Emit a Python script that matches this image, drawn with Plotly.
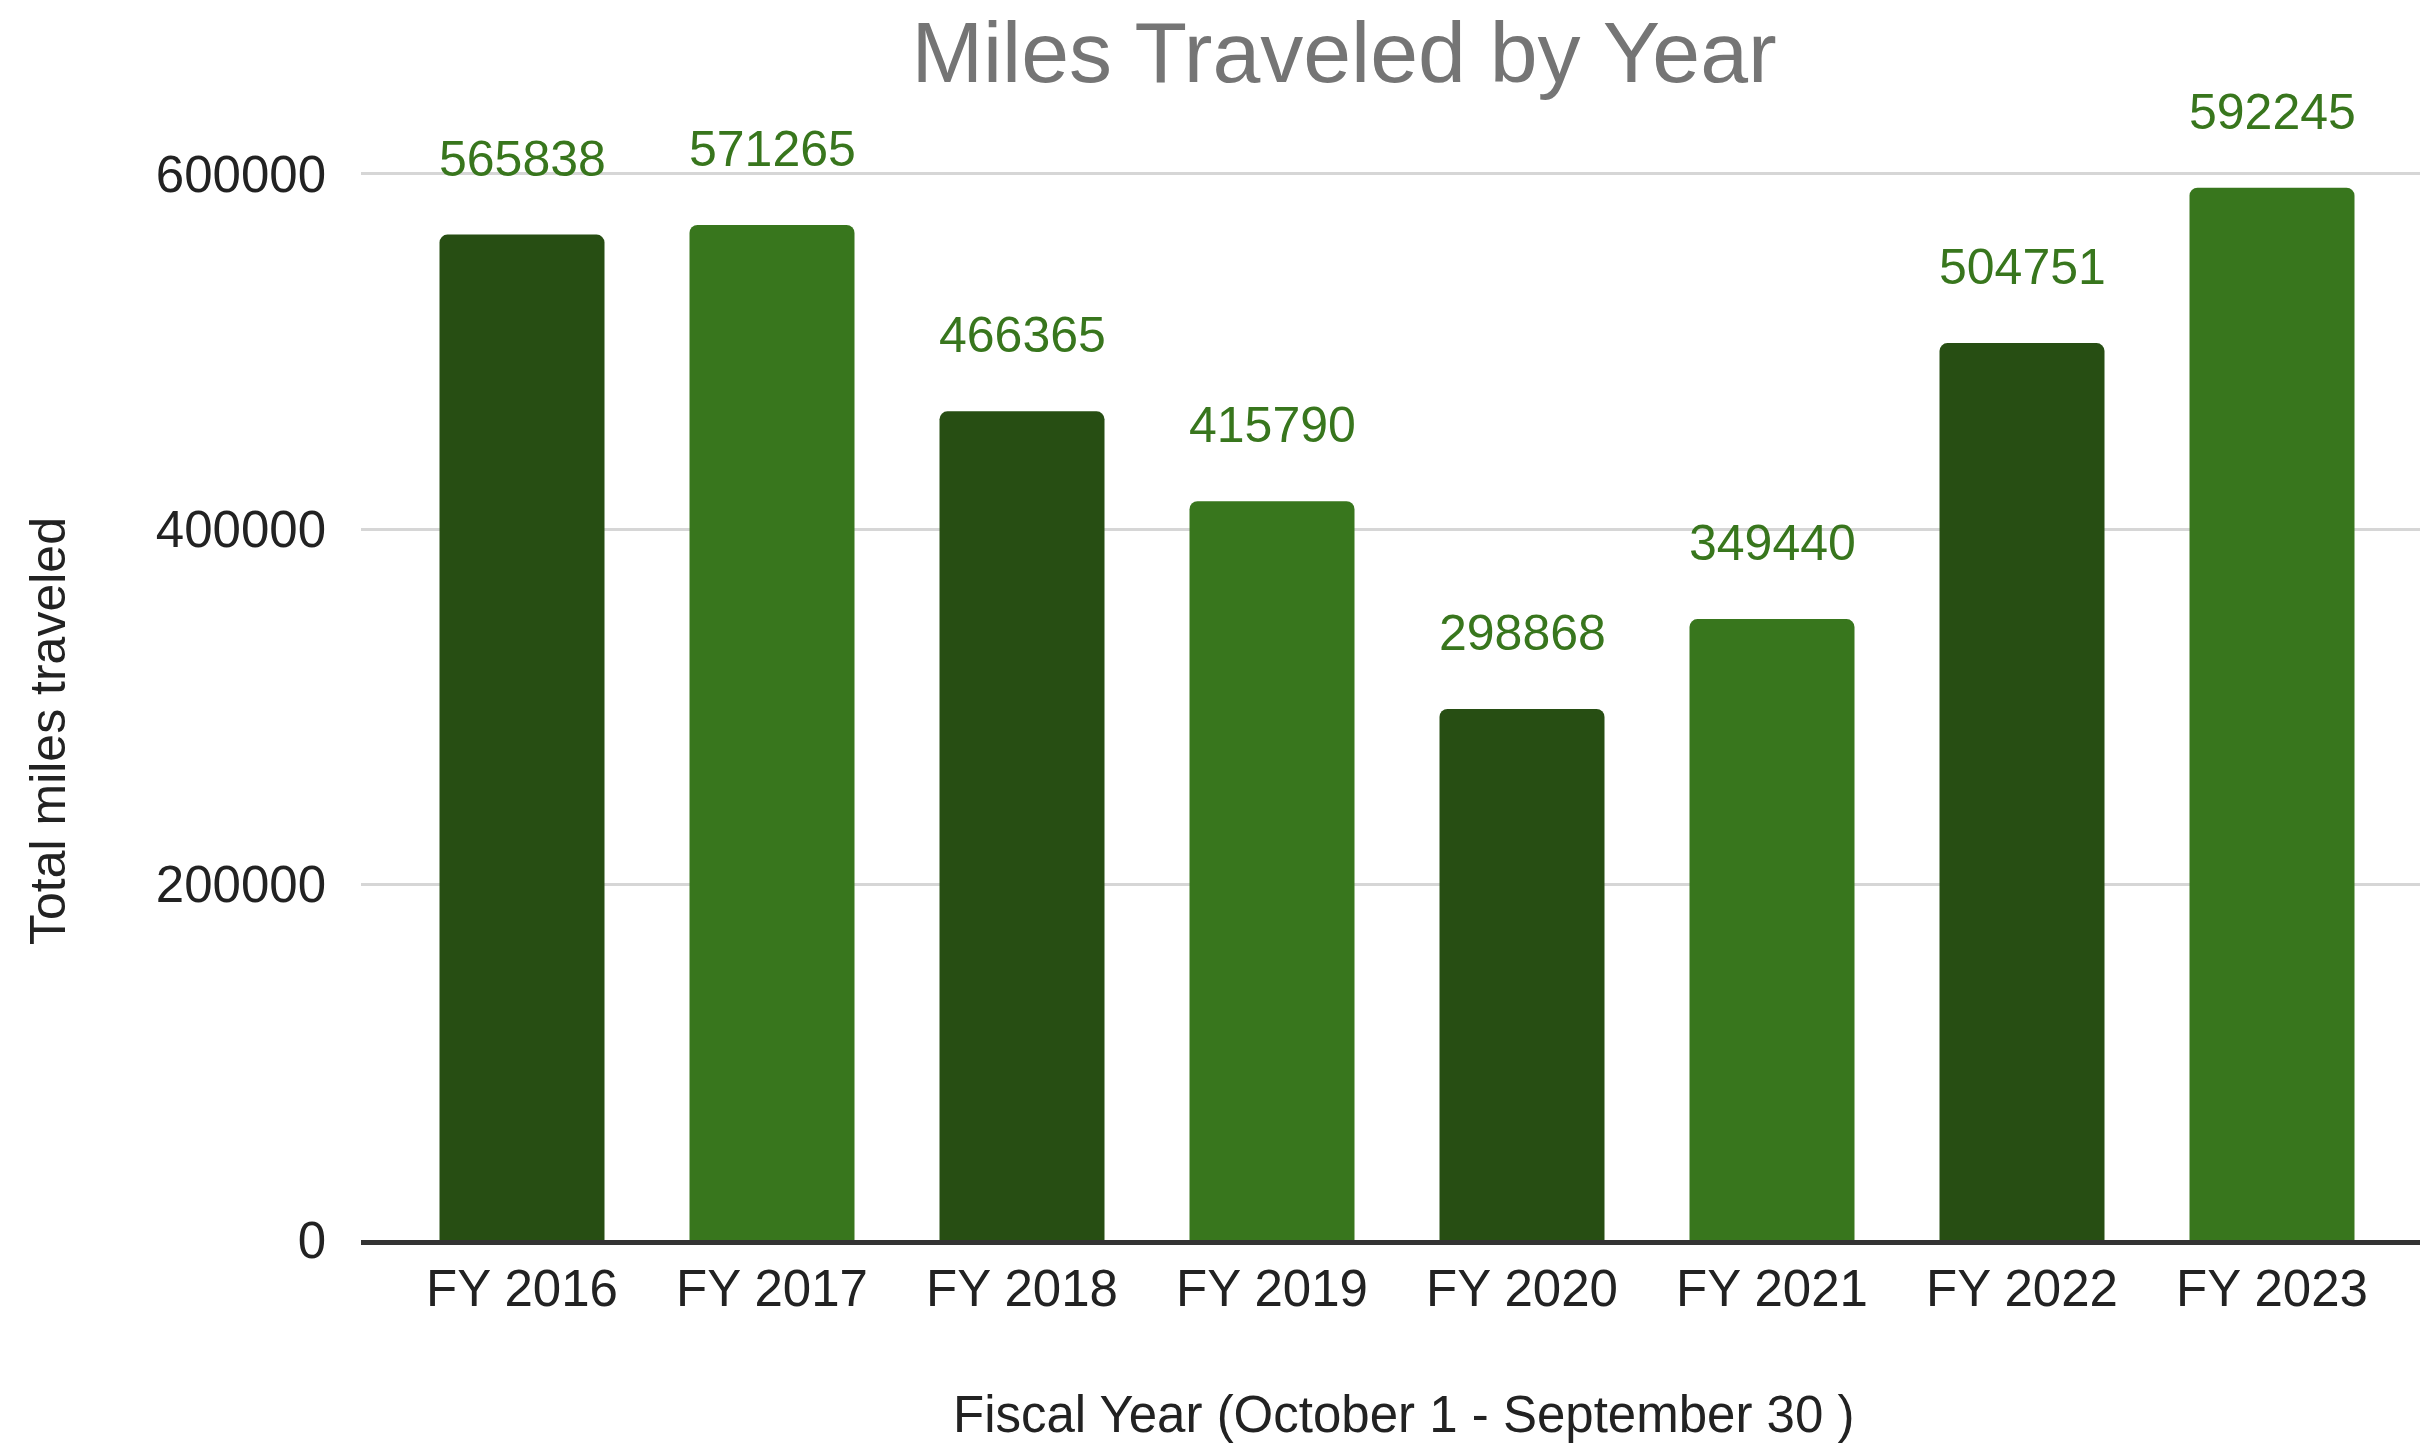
import plotly.graph_objects as go

categories = ["FY 2016", "FY 2017", "FY 2018", "FY 2019", "FY 2020", "FY 2021", "FY 2022", "FY 2023"]
miles = [565838, 571265, 466365, 415790, 298868, 349440, 504751, 592245]
bar_colors = ["#274e13", "#38761d", "#274e13", "#38761d", "#274e13", "#38761d", "#274e13", "#38761d"]
y_ticks = [0, 200000, 400000, 600000]

W, H = 2428, 1446
FONT = "Liberation Sans, Arial, sans-serif"
PLOT_H = 1155

fig = go.Figure()
fig.add_trace(go.Bar(
    x=categories, y=miles,
    marker=dict(color=bar_colors, line=dict(width=0)),
    width=0.66,
    hoverinfo="x+y",
))

annotations = []
for c, v in zip(categories, miles):
    annotations.append(dict(
        x=c, y=v, xref="x", yref="y", text=str(v), showarrow=False,
        yanchor="bottom", yshift=46,
        font=dict(family=FONT, size=50, color="#38761d"),
    ))

annotations.append(dict(
    text="Total miles traveled", textangle=-90, showarrow=False,
    xref="paper", yref="paper",
    x=-(353 - 40) / (W - 353), xanchor="center",
    y=(1240 - 731) / PLOT_H, yanchor="middle",
    font=dict(family=FONT, size=50, color="#222222"),
))
annotations.append(dict(
    text="Fiscal Year (October 1 - September 30 )", showarrow=False,
    xref="paper", yref="paper",
    x=(1395 - 353) / (W - 353), xanchor="center",
    y=-(1414 - 1240) / PLOT_H, yanchor="middle",
    font=dict(family=FONT, size=51, color="#222222"),
))

fig.update_layout(
    width=W, height=H,
    paper_bgcolor="white", plot_bgcolor="white",
    margin=dict(l=353, r=0, t=77, b=214),
    showlegend=False,
    barcornerradius=8,
    title=dict(
        text="Miles Traveled by Year",
        x=1336 / W, xanchor="center", xref="container",
        y=1 - 44 / H, yanchor="middle", yref="container",
        font=dict(family=FONT, size=86, color="#757575"),
    ),
    annotations=annotations,
    xaxis=dict(
        range=[-0.644, 7.656],
        showgrid=False,
        showline=True, linecolor="#333333", linewidth=5,
        ticks="", ticklabelstandoff=0,
        tickfont=dict(family=FONT, size=51, color="#222222"),
    ),
    yaxis=dict(
        range=[0, 650000],
        tickvals=y_ticks, ticktext=[str(t) for t in y_ticks],
        showgrid=True, gridcolor="#d6d6d6", gridwidth=3,
        zeroline=False, showline=False,
        ticks="", ticklabelstandoff=34,
        tickfont=dict(family=FONT, size=51, color="#222222"),
    ),
)

fig.write_html("out.html")
